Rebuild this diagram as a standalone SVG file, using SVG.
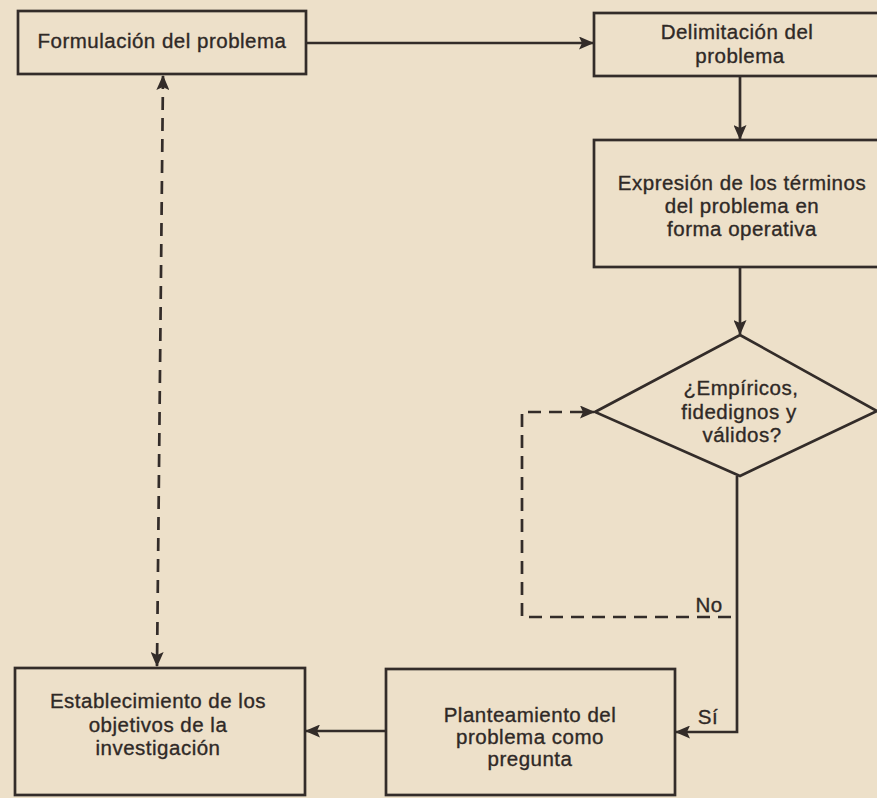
<svg xmlns="http://www.w3.org/2000/svg" width="877" height="798" viewBox="0 0 877 798">
  <defs>
    <style>
      .box { fill: none; stroke: #332c29; stroke-width: 2.7; }
      .lbl { font-family: "Liberation Sans", Arial, sans-serif; font-size: 20.5px; fill: #2f2926; stroke: #2f2926; stroke-width: 0.35; text-anchor: middle; letter-spacing: 0.5px; }
      .ln { fill: none; stroke: #332c29; stroke-width: 2.7; }
      .dash { fill: none; stroke: #332c29; stroke-width: 2.7; stroke-dasharray: 13 8; }
    </style>
    <marker id="arrow" viewBox="0 0 15 13" refX="14" refY="6.5" markerWidth="15" markerHeight="13" markerUnits="userSpaceOnUse" orient="auto-start-reverse">
      <path d="M0,0 L15,6.5 L0,13 L3,6.5 Z" fill="#332c29"/>
    </marker>
  </defs>

  <!-- paper -->
  <rect x="0" y="0" width="877" height="798" fill="#ede0c9"/>

  <!-- connectors -->
  <g id="connectors">
    <line class="ln" x1="306" y1="43" x2="593" y2="43" marker-end="url(#arrow)"/>
    <line class="ln" x1="740" y1="76" x2="740" y2="139" marker-end="url(#arrow)"/>
    <line class="ln" x1="740" y1="267" x2="740" y2="334" marker-end="url(#arrow)"/>
    <polyline class="ln" points="737,476 737,732 676,732" marker-end="url(#arrow)"/>
    <line class="ln" x1="386" y1="731" x2="306" y2="731" marker-end="url(#arrow)"/>
    <polyline class="dash" points="731,617 522,617 522,412 594,412" marker-end="url(#arrow)"/>
    <line class="dash" x1="163" y1="76" x2="157" y2="666" marker-start="url(#arrow)" marker-end="url(#arrow)"/>
    <text class="lbl" x="709" y="612">No</text>
    <text class="lbl" x="708" y="724">Sí</text>
  </g>

  <g id="formulacion">
    <rect class="box" x="18" y="11" width="288" height="63"/>
    <text class="lbl" x="162" y="48">Formulación del problema</text>
  </g>

  <g id="delimitacion">
    <rect class="box" x="594" y="13" width="300" height="63"/>
    <text class="lbl" x="737" y="39">Delimitación del</text>
    <text class="lbl" x="740" y="63">problema</text>
  </g>

  <g id="expresion">
    <rect class="box" x="594" y="140" width="300" height="127"/>
    <text class="lbl" x="742" y="190">Expresión de los términos</text>
    <text class="lbl" x="742" y="213">del problema en</text>
    <text class="lbl" x="742" y="236">forma operativa</text>
  </g>

  <g id="decision">
    <polygon class="box" points="740,335 877,411 740,476 595,412"/>
    <text class="lbl" x="741" y="395">¿Empíricos,</text>
    <text class="lbl" x="739" y="419">fidedignos y</text>
    <text class="lbl" x="742" y="442">válidos?</text>
  </g>

  <g id="planteamiento">
    <rect class="box" x="386" y="669" width="289" height="126"/>
    <text class="lbl" x="530" y="722">Planteamiento del</text>
    <text class="lbl" x="530" y="744">problema como</text>
    <text class="lbl" x="530" y="766">pregunta</text>
  </g>

  <g id="establecimiento">
    <rect class="box" x="15" y="668" width="290" height="127"/>
    <text class="lbl" x="158" y="708">Establecimiento de los</text>
    <text class="lbl" x="158" y="732">objetivos de la</text>
    <text class="lbl" x="158" y="755">investigación</text>
  </g>
</svg>
